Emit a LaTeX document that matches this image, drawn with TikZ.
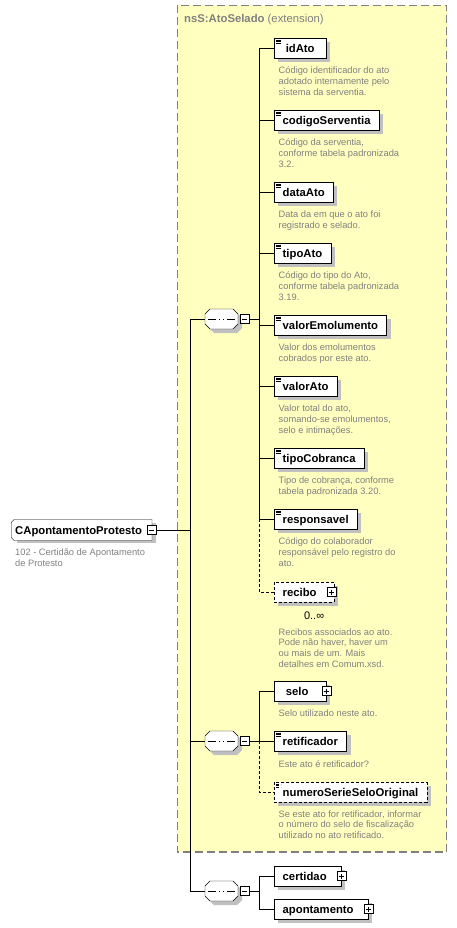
\documentclass[tikz,border=0pt]{standalone}
\usepackage{color}
\usepackage{fontspec}
\setmainfont{Liberation Sans}
\usepackage{tikz}
\usetikzlibrary{arrows,positioning,shapes.misc}
\definecolor{extfill}{RGB}{255,255,192}
\definecolor{extline}{RGB}{128,128,128}
\definecolor{shade}{RGB}{192,192,192}
\definecolor{docgray}{RGB}{128,128,128}
\pgfdeclarelayer{back}
\pgfdeclarelayer{shadow}
\pgfsetlayers{back,shadow,main}

\begin{document}
\begin{tikzpicture}[x=1pt,y=-1pt,line width=1pt]
      \tikzstyle{elem}=[draw,fill=white,anchor=west,minimum width=52pt,minimum height=20pt,inner xsep=8.5pt,text height=8.1pt,text depth=0pt,font=\fontsize{11.3}{13}\selectfont\bfseries]
      \tikzstyle{simple}=[path picture={\foreach \k in {2,3.7,5.4} \draw[line width=0.6pt] ([xshift=1.5pt,yshift=-\k pt]path picture bounding box.north west) -- ++(5pt,0pt);}]
      \tikzstyle{opt}=[dash pattern=on 3pt off 2pt]
      \tikzstyle{doc}=[align=left,inner sep=0pt,text=docgray,font=\fontsize{9.3}{10.7}\selectfont,execute at begin node=\strut]
      \tikzstyle{seqbody}=[chamfered rectangle,chamfered rectangle xsep=2.5pt,chamfered rectangle ysep=2.5pt,inner xsep=14pt,inner ysep=7.5pt]
      \tikzstyle{seq}=[seqbody,draw,fill=white,
        path picture={\draw[line width=1pt] ([xshift=3pt]path picture bounding box.west) -- ([xshift=-3pt]path picture bounding box.east);
          \foreach \d in {-3.7,0,3.7} \fill ([xshift=\d pt]path picture bounding box.center) +(-1.6pt,-1.6pt) rectangle +(1.6pt,1.6pt);}]
      \tikzstyle{minus}=[draw,fill=white,minimum size=9pt,inner sep=0pt,path picture={\draw[line width=0.8pt] ([xshift=2pt]path picture bounding box.west) -- ([xshift=-2pt]path picture bounding box.east);}]
      \tikzstyle{plus}=[draw,fill=white,minimum size=9pt,inner sep=0pt,path picture={\draw[line width=0.8pt] ([xshift=2pt]path picture bounding box.west) -- ([xshift=-2pt]path picture bounding box.east);
          \draw[line width=0.8pt] ([yshift=-2pt]path picture bounding box.north) -- ([yshift=2pt]path picture bounding box.south);}]
      \tikzstyle{cast}=[fill=shade]

      \useasboundingbox (0,0) rectangle (457,928);

      \begin{pgfonlayer}{back}
      \draw[extline,fill=extfill,line width=1.3pt,dash pattern=on 8pt off 4pt] (177.5,5.5) rectangle (446.5,852);
      \end{pgfonlayer}
      \node[anchor=base west,inner sep=0pt,text=docgray,font=\fontsize{11.3}{13}\selectfont] (title) at (184,23) {\textbf{nsS:AtoSelado} (extension)};

      \node[elem,chamfered rectangle,chamfered rectangle corners={north west,south west},chamfered rectangle xsep=1.5pt,chamfered rectangle ysep=1.5pt,inner xsep=2.5pt,inner ysep=4.95pt] (root) at (11,530) {CApontamentoProtesto\hspace*{6pt}};
      \node[minus] (rootM) at ([xshift=-1pt]root.east) {};
      \node[doc,anchor=north west] (rootDoc) at (15,549) {102 - Certidão de Apontamento\\de Protesto};

      \node[seq] (seqA) at (221.5,319) {};
      \node[minus,right=1.5pt of seqA] (seqAM) {};
      \node[seq] (seqB) at (221.5,741) {};
      \node[minus,right=1.5pt of seqB] (seqBM) {};
      \node[seq] (seqC) at (221.5,891) {};
      \node[minus,right=1.5pt of seqC] (seqCM) {};

      \node[elem,simple] (idAto) at (274,48) {idAto};
      \node[doc,below right=8.5pt and 4.5pt of idAto.south west] (idAtoDoc) {Código identificador do ato\\adotado internamente pelo\\sistema da serventia.};
      \node[elem,simple] (codigoServentia) at (274,120) {codigoServentia};
      \node[doc,below right=8.5pt and 4.5pt of codigoServentia.south west] (codigoServentiaDoc) {Código da serventia,\\conforme tabela padronizada\\3.2.};
      \node[elem,simple] (dataAto) at (274,192) {dataAto};
      \node[doc,below right=8.5pt and 4.5pt of dataAto.south west] (dataAtoDoc) {Data da em que o ato foi\\registrado e selado.};
      \node[elem,simple] (tipoAto) at (274,253) {tipoAto};
      \node[doc,below right=8.5pt and 4.5pt of tipoAto.south west] (tipoAtoDoc) {Código do tipo do Ato,\\conforme tabela padronizada\\3.19.};
      \node[elem,simple] (valorEmolumento) at (274,325) {valorEmolumento};
      \node[doc,below right=8.5pt and 4.5pt of valorEmolumento.south west] (valorEmolumentoDoc) {Valor dos emolumentos\\cobrados por este ato.};
      \node[elem,simple] (valorAto) at (274,386) {valorAto};
      \node[doc,below right=8.5pt and 4.5pt of valorAto.south west] (valorAtoDoc) {Valor total do ato,\\somando-se emolumentos,\\selo e intimações.};
      \node[elem,simple] (tipoCobranca) at (274,458) {tipoCobranca};
      \node[doc,below right=8.5pt and 4.5pt of tipoCobranca.south west] (tipoCobrancaDoc) {Tipo de cobrança, conforme\\tabela padronizada 3.20.};
      \node[elem,simple] (responsavel) at (274,519) {responsavel};
      \node[doc,below right=8.5pt and 4.5pt of responsavel.south west] (responsavelDoc) {Código do colaborador\\responsável pelo registro do\\ato.};
      \node[elem,opt] (recibo) at (274,592) {recibo\hspace*{9pt}};
      \node[plus] (reciboP) at ([xshift=-3pt]recibo.east) {};
      \node[anchor=north east,inner sep=0pt,font=\fontsize{11}{13}\selectfont] (reciboMult) at ([xshift=-10pt,yshift=-9pt]recibo.south east) {0..∞};
      \node[doc,below right=26pt and 4.5pt of recibo.south west] (reciboDoc) {Recibos associados ao ato.\\Pode não haver, haver um\\ou mais de um. Mais\\detalhes em Comum.xsd.};

      \node[elem] (selo) at (274,691) {selo\hspace*{6pt}};
      \node[plus] (seloP) at (selo.east) {};
      \node[doc,below right=8pt and 4.5pt of selo.south west] (seloDoc) {Selo utilizado neste ato.};
      \node[elem,simple] (retificador) at (274,741) {retificador};
      \node[doc,below right=9pt and 4.5pt of retificador.south west] (retificadorDoc) {Este ato é retificador?};
      \node[elem,simple,opt] (numeroSerieSeloOriginal) at (274,792) {numeroSerieSeloOriginal};
      \node[doc,below right=8pt and 4.5pt of numeroSerieSeloOriginal.south west] (numeroSerieSeloOriginalDoc) {Se este ato for retificador, informar\\o número do selo de fiscalização\\utilizado no ato retificado.};

      \node[elem] (certidao) at (274,876) {certidao\hspace*{6pt}};
      \node[plus] (certidaoP) at (certidao.east) {};
      \node[elem] (apontamento) at (274,909) {apontamento\hspace*{6pt}};
      \node[plus] (apontamentoP) at (apontamento.east) {};

      \begin{pgfonlayer}{shadow}
      \fill[cast] ([xshift=4pt,yshift=-4pt]root.south west) rectangle ([xshift=4pt,yshift=-4pt]root.north east);
      \node[seqbody,cast] (seqAS) at ([xshift=4pt,yshift=-4pt]seqA.center) {};
      \node[seqbody,cast] (seqBS) at ([xshift=4pt,yshift=-4pt]seqB.center) {};
      \node[seqbody,cast] (seqCS) at ([xshift=4pt,yshift=-4pt]seqC.center) {};
      \fill[cast] ([xshift=4pt,yshift=-4pt]idAto.south west) rectangle ([xshift=4pt,yshift=-4pt]idAto.north east);
      \fill[cast] ([xshift=4pt,yshift=-4pt]codigoServentia.south west) rectangle ([xshift=4pt,yshift=-4pt]codigoServentia.north east);
      \fill[cast] ([xshift=4pt,yshift=-4pt]dataAto.south west) rectangle ([xshift=4pt,yshift=-4pt]dataAto.north east);
      \fill[cast] ([xshift=4pt,yshift=-4pt]tipoAto.south west) rectangle ([xshift=4pt,yshift=-4pt]tipoAto.north east);
      \fill[cast] ([xshift=4pt,yshift=-4pt]valorEmolumento.south west) rectangle ([xshift=4pt,yshift=-4pt]valorEmolumento.north east);
      \fill[cast] ([xshift=4pt,yshift=-4pt]valorAto.south west) rectangle ([xshift=4pt,yshift=-4pt]valorAto.north east);
      \fill[cast] ([xshift=4pt,yshift=-4pt]tipoCobranca.south west) rectangle ([xshift=4pt,yshift=-4pt]tipoCobranca.north east);
      \fill[cast] ([xshift=4pt,yshift=-4pt]responsavel.south west) rectangle ([xshift=4pt,yshift=-4pt]responsavel.north east);
      \fill[cast] ([xshift=4pt,yshift=-4pt]recibo.south west) rectangle ([xshift=4pt,yshift=-4pt]recibo.north east);
      \fill[cast] ([xshift=4pt,yshift=-4pt]selo.south west) rectangle ([xshift=4pt,yshift=-4pt]selo.north east);
      \fill[cast] ([xshift=4pt,yshift=-4pt]retificador.south west) rectangle ([xshift=4pt,yshift=-4pt]retificador.north east);
      \fill[cast] ([xshift=4pt,yshift=-4pt]numeroSerieSeloOriginal.south west) rectangle ([xshift=4pt,yshift=-4pt]numeroSerieSeloOriginal.north east);
      \fill[cast] ([xshift=4pt,yshift=-4pt]certidao.south west) rectangle ([xshift=4pt,yshift=-4pt]certidao.north east);
      \fill[cast] ([xshift=4pt,yshift=-4pt]apontamento.south west) rectangle ([xshift=4pt,yshift=-4pt]apontamento.north east);
      \end{pgfonlayer}

      \coordinate (trunk) at (190,530);
      \coordinate (busA) at (259,319);
      \coordinate (busB) at (259,741);
      \coordinate (busC) at (259,891);

      \draw (rootM) -- (trunk);
      \draw (trunk |- seqA) -- (trunk |- seqC);
      \draw (trunk |- seqA) -- (seqA);
      \draw (trunk |- seqB) -- (seqB);
      \draw (trunk |- seqC) -- (seqC);

      \draw (seqAM) -- (busA);
      \draw (busA |- idAto) -- (busA |- responsavel);
      \draw[opt] (busA |- responsavel) -- (busA |- recibo) -- (recibo);
      \draw (busA |- idAto) -- (idAto);
      \draw (busA |- codigoServentia) -- (codigoServentia);
      \draw (busA |- dataAto) -- (dataAto);
      \draw (busA |- tipoAto) -- (tipoAto);
      \draw (busA |- valorEmolumento) -- (valorEmolumento);
      \draw (busA |- valorAto) -- (valorAto);
      \draw (busA |- tipoCobranca) -- (tipoCobranca);
      \draw (busA |- responsavel) -- (responsavel);

      \draw (seqBM) -- (busB);
      \draw (busB |- selo) -- (busB |- retificador);
      \draw[opt] (busB |- retificador) -- (busB |- numeroSerieSeloOriginal) -- (numeroSerieSeloOriginal);
      \draw (busB |- selo) -- (selo);
      \draw (busB |- retificador) -- (retificador);

      \draw (seqCM) -- (busC);
      \draw (busC |- certidao) -- (busC |- apontamento);
      \draw (busC |- certidao) -- (certidao);
      \draw (busC |- apontamento) -- (apontamento);

    \end{tikzpicture}
\end{document}
